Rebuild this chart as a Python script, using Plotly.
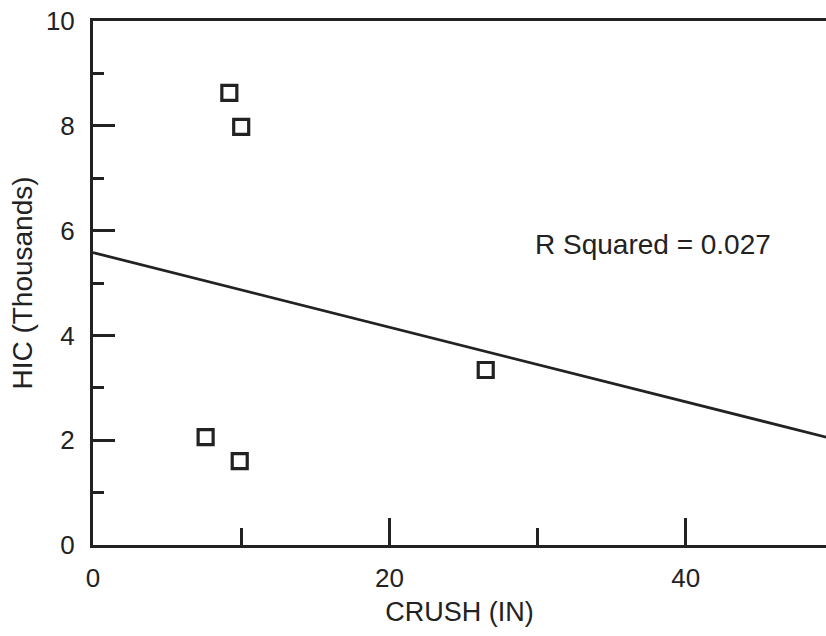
import plotly.graph_objects as go

# Data
crush_in = [9.2, 10.0, 7.6, 9.9, 26.5]
hic_thousands = [8.63, 7.98, 2.06, 1.60, 3.34]

# Regression line end points (x in inches, y in thousands)
fit_x = [0, 50]
fit_y = [5.58, 2.02]

r_squared_label = "R Squared = 0.027"

x_tick_vals = [0, 20, 40]
y_tick_vals = [0, 2, 4, 6, 8, 10]

ink = "#222222"
font_family = "Liberation Sans, Arial, Helvetica, sans-serif"

fig = go.Figure()

fig.add_trace(go.Scatter(
    x=fit_x, y=fit_y, mode="lines",
    line=dict(color=ink, width=2.8),
    showlegend=False, hoverinfo="skip",
))

fig.add_trace(go.Scatter(
    x=crush_in, y=hic_thousands, mode="markers",
    marker=dict(symbol="square-open", size=15, color=ink,
                line=dict(color=ink, width=3.2)),
    showlegend=False,
))

fig.add_annotation(
    x=29.7, y=5.73, xref="x", yref="y", text=r_squared_label,
    showarrow=False, xanchor="left", yanchor="middle",
    font=dict(size=28, color=ink, family=font_family),
)

fig.update_layout(
    width=826, height=636,
    margin=dict(l=93, r=0, t=21, b=91),
    paper_bgcolor="white", plot_bgcolor="white",
    font=dict(family=font_family, color=ink, size=25),
    xaxis=dict(
        range=[0, 49.46], showgrid=False, zeroline=False,
        showline=True, linecolor=ink, linewidth=3, mirror=True,
        ticks="inside", ticklen=27, tickwidth=2.5, tickcolor=ink,
        tickvals=x_tick_vals, ticklabelstandoff=8,
        minor=dict(ticks="inside", ticklen=17, tickwidth=2.5, tickcolor=ink,
                   dtick=10, tick0=0, showgrid=False),
        title=dict(text="CRUSH (IN)", standoff=10, font=dict(size=27)),
        tickfont=dict(size=26),
    ),
    yaxis=dict(
        range=[0, 10.0], showgrid=False, zeroline=False,
        showline=True, linecolor=ink, linewidth=3, mirror=False,
        ticks="inside", ticklen=22, tickwidth=2.5, tickcolor=ink,
        tickvals=y_tick_vals, ticklabelstandoff=10,
        minor=dict(ticks="inside", ticklen=11, tickwidth=2.5, tickcolor=ink,
                   dtick=1, tick0=0, showgrid=False),
        title=dict(text="HIC (Thousands)", standoff=6, font=dict(size=28)),
        tickfont=dict(size=26),
    ),
)

fig.write_html("out.html")
